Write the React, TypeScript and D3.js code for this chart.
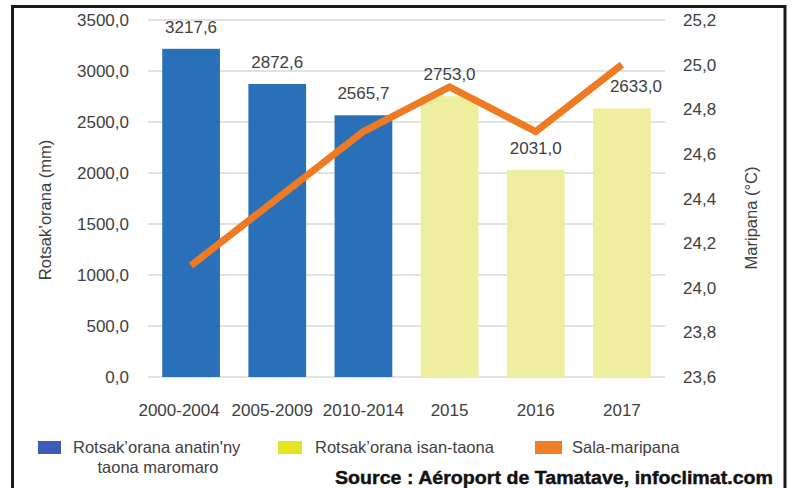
import React from "react";
import * as d3 from "d3";

const categories = ["2000-2004", "2005-2009", "2010-2014", "2015", "2016", "2017"];
const rainfall = [3217.6, 2872.6, 2565.7, 2753.0, 2031.0, 2633.0];
const isAverage = [true, true, true, false, false, false];
const temperature = [24.1, 24.4, 24.7, 24.9, 24.7, 25.0];
const leftTicks = [0, 500, 1000, 1500, 2000, 2500, 3000, 3500];
const rightTicks = [23.6, 23.8, 24.0, 24.2, 24.4, 24.6, 24.8, 25.0, 25.2];
const legendLabels = ["Rotsak\u2019orana anatin'ny", "Rotsak\u2019orana isan-taona", "Sala-maripana"];

const W = 792, H = 488;
const FONT = "'Liberation Sans', Arial, sans-serif";
const fmt = (v: number) => d3.format(".1f")(v).replace(".", ",");
const xLabelShift = [-12, -5, 0, 0, 0, 0];

export default function App() {
  const x = d3.scaleBand<string>().domain(categories).range([148, 665]).paddingInner(0.33).paddingOuter(0.165);
  const yL = d3.scaleLinear().domain([0, 3500]).range([377, 20]);
  const yR = d3.scaleLinear().domain([23.6, 25.2]).range([377, 20]);
  const line = d3.line<number>()
    .x((_, i) => (x(categories[i]) as number) + x.bandwidth() / 2)
    .y((d) => yR(d));
  const textCol = "#404040";

  return (
    <svg width={W} height={H} style={{ position: "absolute", left: 0, top: 0, background: "#fff" }} fontFamily={FONT}>
      <rect x={0} y={0} width={W} height={H} fill="#fff" />
      <path d={`M12.5,${H + 5} V6.5 H785 V${H + 5}`} fill="none" stroke="#1a1a1a" strokeWidth={3} />
      {leftTicks.map((t) => (
        <line key={t} x1={148} x2={665} y1={yL(t)} y2={yL(t)} stroke="#d9d9d9" strokeWidth={1.5} />
      ))}
      {leftTicks.map((t) => (
        <text key={t} x={129} y={yL(t)} dy="0.36em" textAnchor="end" fontSize={17} fill={textCol}>
          {fmt(t)}
        </text>
      ))}
      {rightTicks.map((t) => (
        <text key={t} x={683} y={yR(t)} dy="0.36em" textAnchor="start" fontSize={17} fill={textCol}>
          {fmt(t)}
        </text>
      ))}
      <text transform={`translate(51,210) rotate(-90)`} textAnchor="middle" fontSize={16.5} fill={textCol}>
        Rotsak’orana (mm)
      </text>
      <text transform={`translate(757,218) rotate(-90)`} textAnchor="middle" fontSize={16.5} fill={textCol}>
        Maripana (°C)
      </text>
      {categories.map((c, i) => (
        <rect
          key={c}
          x={x(c)}
          y={yL(rainfall[i])}
          width={x.bandwidth()}
          height={yL(0) - yL(rainfall[i])}
          fill={isAverage[i] ? "#2a70b8" : "#eeee9e"}
        />
      ))}
      <path d={line(temperature) || ""} fill="none" stroke="#ee7a22" strokeWidth={7} strokeLinejoin="miter" />
      {categories.map((c, i) => (
        <text
          key={c}
          x={(x(c) as number) + x.bandwidth() / 2 + (i === 5 ? 14 : 0)}
          y={yL(rainfall[i]) - 16}
          textAnchor="middle"
          fontSize={17}
          fill={textCol}
        >
          {fmt(rainfall[i])}
        </text>
      ))}
      {categories.map((c, i) => (
        <text key={c} x={(x(c) as number) + x.bandwidth() / 2 + xLabelShift[i]} y={416} textAnchor="middle" fontSize={17} fill={textCol}>
          {c}
        </text>
      ))}
      <rect x={38} y={441} width={23} height={13} fill="#3d5cb8" />
      <text x={73} y={453} fontSize={16.5} fill={textCol}>{legendLabels[0]}</text>
      <text x={158} y={473} textAnchor="middle" fontSize={16.5} fill={textCol}>taona maromaro</text>
      <rect x={278} y={441} width={24} height={13} fill="#e6e41e" />
      <text x={315} y={453} fontSize={16.5} fill={textCol}>{legendLabels[1]}</text>
      <rect x={535} y={441} width={27} height={13} fill="#f07e26" />
      <text x={572} y={453} fontSize={16.5} fill={textCol}>{legendLabels[2]}</text>
      <text x={773} y={484} textAnchor="end" fontSize={18} fontWeight="bold" fill="#111" stroke="#111" strokeWidth={0.4} textLength={438} lengthAdjust="spacingAndGlyphs">
        Source : Aéroport de Tamatave, infoclimat.com
      </text>
    </svg>
  );
}
